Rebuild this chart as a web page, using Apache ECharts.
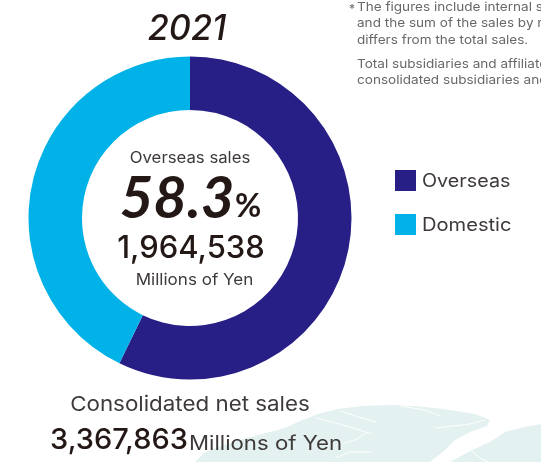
<!DOCTYPE html>
<html><head><meta charset="utf-8">
<style>html,body{margin:0;padding:0;background:#fff}#c{width:541px;height:462px}</style>
<script src="https://cdn.jsdelivr.net/npm/echarts@6/dist/echarts.min.js"></script>
</head><body><div id="c"></div>
<script>
const categories = ['Overseas', 'Domestic'];
const sliceValues = [57.2, 42.8];
const sliceColors = ['#271f86', '#00b2e8'];
const year = '2021';
const centerTexts = ['Overseas sales', '58.3', '%', '1,964,538', 'Millions of Yen'];
const totalTexts = ['Consolidated net sales', '3,367,863', 'Millions of Yen'];
const noteLines = ['The figures include internal sales between regions,', 'and the sum of the sales by region', 'differs from the total sales.', 'Total subsidiaries and affiliates:', 'consolidated subsidiaries and affiliates'];
const font = 'Inter, "Open Sans", sans-serif';
const numFont = 'Lato, sans-serif';
const ink = '#231815';
const grey = '#3e3a39';
const note = '#6a6867';
const t = (x, y, text, size, o = {}) => ({type:'text', x, y, z:10, silent:true, scaleX:o.sx||1, style:{text, fontSize:size, fontFamily:o.font||font, fill:o.fill||ink, fontWeight:o.weight||'normal', fontStyle:o.italic?'italic':'normal', textAlign:o.align||'center', textVerticalAlign:'middle'}});
const landColor = '#e3f1f0';
const land = [
 [[195,462],[205,452],[222,446],[240,440],[262,434],[285,428],[300,421],[318,414],[338,409],[362,406],[395,405],[425,407],[450,410],[475,414],[490,420],[487,426],[470,432],[455,440],[445,450],[430,462]],
 [[450,462],[472,450],[490,442],[505,432],[525,427],[541,424],[541,462]]
];
const fjords = [
 [[316,418],[340,424],[372,434]],
 [[340,411],[362,418],[376,422]],
 [[400,406],[425,410],[440,416]],
 [[338,445],[355,440],[368,432]],
 [[335,458],[350,452],[372,452]],
 [[435,428],[470,424],[485,420]],
 [[470,450],[480,458],[488,462]]
];
const chart = echarts.init(document.getElementById('c'), null, {renderer:'canvas'});
chart.setOption({
 animation:false,
 legend:{show:false},
 series:[{
  type:'pie', center:[190,218], radius:[108,161.5], startAngle:90, clockwise:true,
  label:{show:false}, labelLine:{show:false}, silent:true,
  itemStyle:{borderWidth:0},
  data:categories.map((name,i)=>({name,value:sliceValues[i],itemStyle:{color:sliceColors[i]}}))
 }],
 graphic:[
  ...land.map(p=>({type:'polygon',z:0,silent:true,shape:{points:p},style:{fill:landColor}})),
  ...fjords.map(p=>({type:'polyline',z:1,silent:true,shape:{points:p},style:{stroke:'#fff',lineWidth:0.9,fill:null}})),
  t(187,29,year,35,{italic:true,weight:'500',sx:0.98}),
  t(190,158,centerTexts[0],15.5,{fill:grey,sx:1.08}),
  t(177,199,centerTexts[1],58,{italic:true,weight:'bold',font:numFont}),
  t(248,207,centerTexts[2],32,{weight:'bold',font:numFont}),
  t(191,249,centerTexts[3],31,{weight:'500'}),
  t(194.5,280,centerTexts[4],15.5,{fill:grey,sx:1.1}),
  {type:'rect',silent:true,shape:{x:395,y:170,width:21,height:21},style:{fill:sliceColors[0]}},
  {type:'rect',silent:true,shape:{x:395,y:214,width:21,height:21},style:{fill:sliceColors[1]}},
  t(422,182,categories[0],18.3,{align:'left',fill:grey,sx:1.08}),
  t(422,226,categories[1],18.3,{align:'left',fill:grey,sx:1.1}),
  t(190,405,totalTexts[0],20.5,{fill:grey,sx:1.09}),
  t(119,440,totalTexts[1],29,{weight:'500'}),
  t(189,444,totalTexts[2],20,{align:'left',fill:grey,sx:1.11}),
  t(349,9,'*',12,{align:'left',fill:note}),
  t(357,7,noteLines[0],12,{align:'left',fill:note,sx:1.13}),
  t(357,23,noteLines[1],12,{align:'left',fill:note,sx:1.13}),
  t(357,40,noteLines[2],12,{align:'left',fill:note,sx:1.13}),
  t(357,64,noteLines[3],12,{align:'left',fill:note,sx:1.13}),
  t(357,80,noteLines[4],12,{align:'left',fill:note,sx:1.13})
 ]
});
</script></body></html>
